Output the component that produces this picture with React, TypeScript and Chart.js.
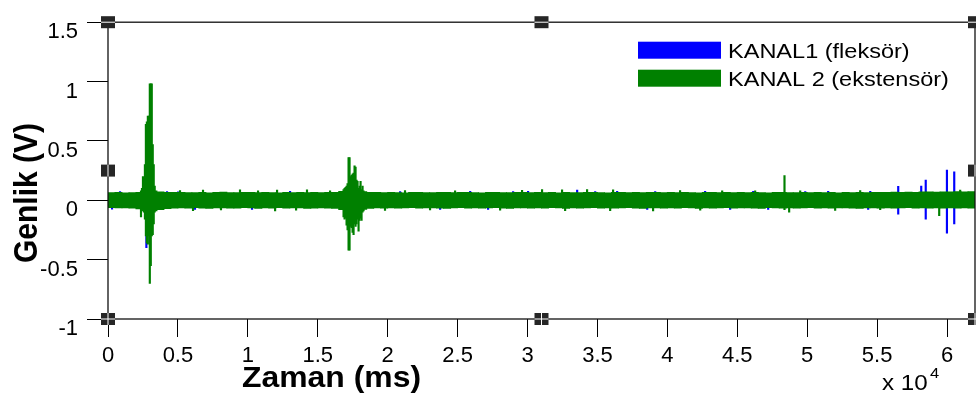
import React, { useEffect, useRef } from 'react';
import { Chart, registerables } from 'chart.js';

Chart.register(...registerables);

// ---------- axes ----------
const X_MIN = 0;
const X_MAX = 62000;
const Y_MIN = -1;
const Y_MAX = 1.5;
const X_TICKS = [0, 5000, 10000, 15000, 20000, 25000, 30000, 35000, 40000, 45000, 50000, 55000, 60000];
const X_TICK_LABELS = ['0', '0.5', '1', '1.5', '2', '2.5', '3', '3.5', '4', '4.5', '5', '5.5', '6'];
const Y_TICKS = [-1, -0.5, 0, 0.5, 1, 1.5];
const Y_TICK_LABELS = ['-1', '-0.5', '0', '0.5', '1', '1.5'];
const X_TITLE = 'Zaman (ms)';
const Y_TITLE = 'Genlik (V)';
const X_EXP_BASE = 'x 10';
const X_EXP_POWER = '4';
const SERIES_LABELS = ['KANAL1 (fleksör)', 'KANAL 2 (ekstensör)'];
const SERIES_COLORS = ['#0000ff', '#008000'];

// ---------- data (V), min/max envelope per time bin ----------
const GREEN_BIN_MS = 500;
const GREEN_BAND_UPPER = [
  0.064, 0.066, 0.062, 0.065, 0.068, 0.075, 0.080, 0.072, 0.068, 0.066,
  0.067, 0.064, 0.065, 0.068, 0.063, 0.066, 0.069, 0.065, 0.064, 0.067,
  0.066, 0.064, 0.068, 0.065, 0.063, 0.067, 0.065, 0.066, 0.064, 0.068,
  0.065, 0.067, 0.066, 0.075, 0.085, 0.080, 0.074, 0.068, 0.066, 0.064,
  0.067, 0.065, 0.063, 0.066, 0.068, 0.064, 0.065, 0.067, 0.066, 0.064,
  0.066, 0.068, 0.065, 0.063, 0.067, 0.066, 0.064, 0.065, 0.068, 0.066,
  0.064, 0.067, 0.065, 0.066, 0.063, 0.068, 0.065, 0.064, 0.067, 0.066,
  0.065, 0.063, 0.066, 0.068, 0.064, 0.067, 0.065, 0.066, 0.068, 0.065,
  0.067, 0.064, 0.066, 0.065, 0.063, 0.067, 0.066, 0.064, 0.068, 0.065,
  0.066, 0.064, 0.067, 0.065, 0.063, 0.066, 0.068, 0.064, 0.065, 0.067,
  0.064, 0.066, 0.065, 0.067, 0.063, 0.066, 0.064, 0.068, 0.065, 0.066,
  0.068, 0.066, 0.069, 0.067, 0.070, 0.068, 0.071, 0.072, 0.069, 0.071,
  0.072, 0.074, 0.071, 0.073,
];
const GREEN_BAND_LOWER = [
  -0.062, -0.065, -0.064, -0.067, -0.072, -0.085, -0.090, -0.080, -0.070, -0.066,
  -0.064, -0.067, -0.063, -0.066, -0.068, -0.065, -0.064, -0.067, -0.066, -0.063,
  -0.065, -0.068, -0.064, -0.066, -0.063, -0.067, -0.065, -0.064, -0.068, -0.066,
  -0.064, -0.066, -0.068, -0.080, -0.095, -0.090, -0.078, -0.068, -0.065, -0.067,
  -0.064, -0.066, -0.065, -0.063, -0.067, -0.065, -0.064, -0.066, -0.068, -0.065,
  -0.063, -0.066, -0.064, -0.067, -0.065, -0.063, -0.066, -0.068, -0.064, -0.065,
  -0.067, -0.064, -0.066, -0.063, -0.065, -0.068, -0.064, -0.066, -0.065, -0.063,
  -0.066, -0.064, -0.067, -0.065, -0.063, -0.066, -0.068, -0.064, -0.065, -0.067,
  -0.064, -0.066, -0.063, -0.065, -0.068, -0.064, -0.066, -0.065, -0.063, -0.067,
  -0.065, -0.064, -0.066, -0.068, -0.063, -0.065, -0.067, -0.064, -0.066, -0.065,
  -0.063, -0.066, -0.064, -0.067, -0.065, -0.064, -0.066, -0.068, -0.064, -0.065,
  -0.066, -0.064, -0.067, -0.065, -0.063, -0.066, -0.065, -0.067, -0.064, -0.066,
  -0.065, -0.067, -0.064, -0.066,
];
// [time ms, min V, max V]
const GREEN_SPIKES: [number, number, number][] = [
  [2360, -0.14, 0.08], [2430, -0.08, 0.10], [2500, -0.09, 0.20], [2570, -0.10, 0.12],
  [2640, -0.16, 0.30], [2710, -0.30, 0.64], [2780, -0.36, 0.66], [2850, -0.37, 0.71],
  [2920, -0.30, 0.71], [2990, -0.70, 0.98], [3060, -0.55, 0.98], [3130, -0.30, 0.98],
  [3200, -0.29, 0.47], [3270, -0.20, 0.30], [3340, -0.10, 0.12],
  [16845, -0.14, 0.09], [16917, -0.16, 0.10], [16988, -0.15, 0.11], [17060, -0.21, 0.12],
  [17131, -0.25, 0.14], [17203, -0.42, 0.36], [17274, -0.42, 0.36], [17346, -0.22, 0.20],
  [17417, -0.23, 0.21], [17489, -0.27, 0.22], [17560, -0.29, 0.23], [17632, -0.20, 0.29],
  [17703, -0.22, 0.28], [17775, -0.20, 0.17], [17846, -0.16, 0.16], [17918, -0.26, 0.10],
  [17989, -0.17, 0.12], [18061, -0.15, 0.16], [18132, -0.17, 0.09], [18204, -0.10, 0.12],
  [18275, -0.09, 0.08],
  [5150, -0.05, 0.082], [6080, -0.088, 0.05], [6795, -0.05, 0.085], [8080, -0.082, 0.05],
  [9440, -0.05, 0.088], [10730, -0.05, 0.08], [11950, -0.09, 0.05], [12090, -0.05, 0.086],
  [13450, -0.083, 0.05], [14230, -0.05, 0.088], [15880, -0.05, 0.08], [19810, -0.085, 0.05],
  [21240, -0.05, 0.082], [23030, -0.082, 0.05], [24820, -0.05, 0.08], [28040, -0.084, 0.05],
  [29610, -0.05, 0.083], [31040, -0.05, 0.09], [32470, -0.05, 0.088], [32690, -0.088, 0.05],
  [34260, -0.05, 0.09], [35910, -0.088, 0.05], [36120, -0.05, 0.088], [38980, -0.09, 0.05],
  [40910, -0.05, 0.082], [42350, -0.083, 0.05], [43920, -0.05, 0.08], [46280, -0.05, 0.08],
  [48377, -0.08, 0.207], [48710, -0.10, 0.05], [49500, -0.05, 0.08], [52000, -0.085, 0.05],
  [53790, -0.05, 0.082], [55220, -0.08, 0.05], [59440, -0.13, 0.05], [60940, -0.05, 0.085],
];

const BLUE_BIN_MS = 2000;
const BLUE_BAND_UPPER = [
  0.055, 0.054, 0.056, 0.053, 0.055, 0.057, 0.054, 0.056, 0.055, 0.053,
  0.056, 0.054, 0.055, 0.057, 0.053, 0.055, 0.056, 0.054, 0.055, 0.053,
  0.056, 0.055, 0.054, 0.057, 0.055, 0.053, 0.056, 0.054, 0.058, 0.056, 0.057,
];
const BLUE_BAND_LOWER = [
  -0.054, -0.056, -0.053, -0.055, -0.057, -0.054, -0.055, -0.053, -0.056, -0.054,
  -0.055, -0.057, -0.053, -0.055, -0.054, -0.056, -0.053, -0.055, -0.057, -0.054,
  -0.055, -0.053, -0.056, -0.054, -0.055, -0.057, -0.054, -0.056, -0.057, -0.055, -0.056,
];
const BLUE_SPIKES: [number, number, number][] = [
  [290, -0.074, 0.05], [860, -0.05, 0.074], [2745, -0.40, 0.20], [4220, -0.05, 0.074],
  [5010, -0.05, 0.072], [6220, -0.076, 0.05], [10300, -0.076, 0.05], [13020, -0.05, 0.076],
  [20890, -0.05, 0.074], [23750, -0.076, 0.05], [25900, -0.05, 0.075], [27180, -0.076, 0.05],
  [28970, -0.05, 0.074], [30040, -0.05, 0.076], [33550, -0.05, 0.085], [34840, -0.05, 0.074],
  [36410, -0.05, 0.076], [38560, -0.077, 0.05], [39130, -0.05, 0.074], [42700, -0.05, 0.075],
  [44490, -0.076, 0.05], [46140, -0.05, 0.076], [47210, -0.076, 0.05], [49860, -0.05, 0.074],
  [51500, -0.05, 0.076], [54360, -0.078, 0.05], [54510, -0.05, 0.076],
  [56510, -0.117, 0.117], [58155, -0.06, 0.12], [58477, -0.16, 0.17],
  [59993, -0.276, 0.254], [60515, -0.20, 0.24],
];

const FONT = "'Liberation Sans', Arial, sans-serif";

function bandData(upper: number[], lower: number[], binMs: number) {
  return upper.map((u, i) => ({ x: binMs * (i + 0.5), y: [lower[i], u] }));
}
function spikeData(spikes: [number, number, number][]) {
  return spikes.map(([t, lo, up]) => ({ x: t, y: [lo, up] }));
}

function drawText(ctx: CanvasRenderingContext2D, text: string, x: number, y: number, font: string, sx = 1, rotate = 0) {
  ctx.save();
  ctx.translate(x, y);
  ctx.scale(sx, 1);
  if (rotate) ctx.rotate(rotate);
  ctx.font = font;
  ctx.fillStyle = '#000';
  ctx.textAlign = 'left';
  ctx.textBaseline = 'alphabetic';
  ctx.fillText(text, 0, 0);
  ctx.restore();
}

const decorPlugin = {
  id: 'decor',
  afterDatasetsDraw(chart: any) {
    const { ctx, chartArea: a } = chart;
    ctx.save();
    ctx.strokeStyle = '#111';
    ctx.lineWidth = 1.3;
    ctx.strokeRect(a.left, a.top, a.right - a.left, a.bottom - a.top);
    ctx.restore();
  },
  afterDraw(chart: any) {
    const { ctx, chartArea: a } = chart;
    // selection handles
    const midX = (a.left + a.right) / 2;
    const midY = (a.top + a.bottom) / 2;
    const handles: [number, number, string][] = [
      [a.left, a.top, 'h'], [midX, a.top, 'h'], [a.right, a.top, 'h'],
      [a.left, midY, 'v'], [a.right, midY, 'v'],
      [a.left, a.bottom, 'c'], [midX, a.bottom, 'c'], [a.right, a.bottom, 'c'],
    ];
    ctx.save();
    for (const [hx, hy, kind] of handles) {
      ctx.fillStyle = '#262626';
      ctx.fillRect(hx - 7, hy - 6, 14, 12);
      ctx.fillStyle = '#fff';
      if (kind !== 'v') ctx.fillRect(hx - 7, hy - 0.5, 14, 1);
      if (kind !== 'h') ctx.fillRect(hx - 0.5, hy - 6, 1, 12);
    }
    ctx.restore();

    // legend
    const boxL = a.right - 337;
    const textL = a.right - 247;
    SERIES_LABELS.forEach((label, i) => {
      const top = a.top + 19.5 + i * 28;
      ctx.fillStyle = SERIES_COLORS[i];
      ctx.fillRect(boxL, top, 83, 17);
      drawText(ctx, label, textL, top + 16, `21px ${FONT}`, 1.12);
    });

    // axis titles
    drawText(ctx, Y_TITLE, 37, 263, `bold 30px ${FONT}`, 1.1, -Math.PI / 2);
    drawText(ctx, X_TITLE, 242, 387, `bold 29px ${FONT}`, 1.1);
    drawText(ctx, X_EXP_BASE, 882, 390, `22px ${FONT}`, 1.1);
    drawText(ctx, X_EXP_POWER, 930, 378, `15px ${FONT}`, 1.1);
  },
};

export default function App() {
  const canvasRef = useRef<HTMLCanvasElement | null>(null);

  useEffect(() => {
    document.body.style.margin = '0';
    const canvas = canvasRef.current;
    if (!canvas) return;
    const tickFont = { family: FONT, size: 22 };
    const chart = new Chart(canvas, {
      type: 'bar',
      data: {
        datasets: [
          {
            label: SERIES_LABELS[1] + ' spikes',
            data: spikeData(GREEN_SPIKES) as any,
            backgroundColor: SERIES_COLORS[1],
            barThickness: 1.5,
            grouped: false,
          },
          {
            label: SERIES_LABELS[1],
            data: bandData(GREEN_BAND_UPPER, GREEN_BAND_LOWER, GREEN_BIN_MS) as any,
            backgroundColor: SERIES_COLORS[1],
            barThickness: 7.3,
            grouped: false,
          },
          {
            label: SERIES_LABELS[0] + ' spikes',
            data: spikeData(BLUE_SPIKES) as any,
            backgroundColor: SERIES_COLORS[0],
            barThickness: 1.5,
            grouped: false,
          },
          {
            label: SERIES_LABELS[0],
            data: bandData(BLUE_BAND_UPPER, BLUE_BAND_LOWER, BLUE_BIN_MS) as any,
            backgroundColor: SERIES_COLORS[0],
            barThickness: 28.5,
            grouped: false,
          },
        ] as any,
      },
      options: {
        animation: false,
        responsive: false,
        events: [],
        layout: { padding: { left: 0, top: 16, right: 1, bottom: 0 } },
        plugins: {
          legend: { display: false },
          tooltip: { enabled: false },
        },
        scales: {
          x: {
            type: 'linear',
            min: X_MIN,
            max: X_MAX,
            offset: false,
            afterBuildTicks: (s: any) => { s.ticks = X_TICKS.map((v) => ({ value: v })); },
            afterFit: (s: any) => { s.height = 77; },
            ticks: {
              callback: (_v: any, i: number) => X_TICK_LABELS[i],
              font: tickFont,
              color: '#000',
              padding: 6,
              maxRotation: 0,
              autoSkip: false,
              includeBounds: false,
            },
            grid: { offset: false, drawOnChartArea: false, drawTicks: true, tickLength: 18, color: '#000', lineWidth: 1 },
            border: { display: false },
          },
          y: {
            type: 'linear',
            min: Y_MIN,
            max: Y_MAX,
            afterBuildTicks: (s: any) => { s.ticks = Y_TICKS.map((v) => ({ value: v })); },
            afterFit: (s: any) => { s.width = 108; },
            ticks: {
              callback: (_v: any, i: number) => Y_TICK_LABELS[i],
              font: tickFont,
              color: '#000',
              padding: 9,
              labelOffset: 10,
              autoSkip: false,
            },
            grid: { drawOnChartArea: false, drawTicks: true, tickLength: 21, color: '#000', lineWidth: 1 },
            border: { display: false },
          },
        },
      } as any,
      plugins: [decorPlugin],
    });
    return () => chart.destroy();
  }, []);

  return (
    <div style={{ width: 976, height: 396, overflow: 'hidden', background: '#fff' }}>
      <canvas ref={canvasRef} width={976} height={396} style={{ display: 'block', width: 976, height: 396 }} />
    </div>
  );
}
